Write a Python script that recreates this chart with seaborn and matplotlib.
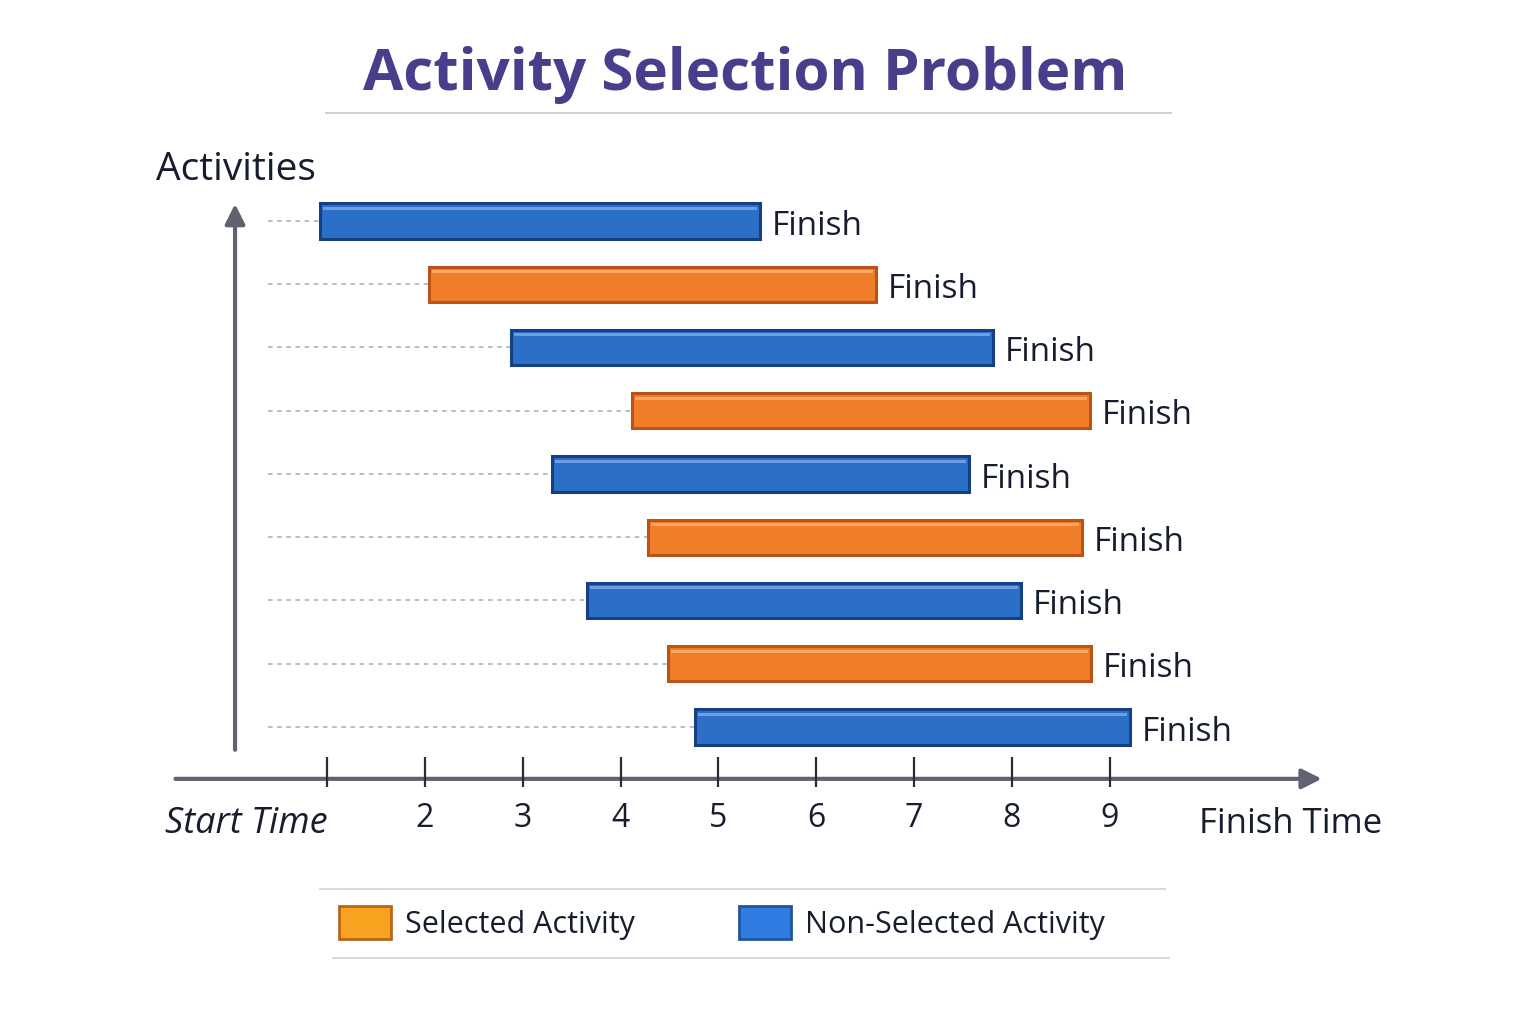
import matplotlib
matplotlib.use("Agg")
import matplotlib.pyplot as plt
from matplotlib.patches import Patch
import seaborn as sns
import pandas as pd

sns.set_theme(style="white")
plt.rcParams["font.family"] = ["Open Sans", "DejaVu Sans"]

# ---------- data ----------
activities = [1, 2, 3, 4, 5, 6, 7, 8, 9]
starts = [0.93, 2.04, 2.88, 4.12, 3.30, 4.28, 3.66, 4.49, 4.76]
finishes = [5.43, 6.61, 7.81, 8.80, 7.56, 8.72, 8.09, 8.81, 9.21]
selected = [False, True, False, True, False, True, False, True, False]
tick_values = [1, 2, 3, 4, 5, 6, 7, 8, 9]
tick_labels = ["", "2", "3", "4", "5", "6", "7", "8", "9"]

df = pd.DataFrame({"activity": activities, "start": starts,
                   "finish": finishes, "selected": selected})
df["row"] = df["activity"] - 1
df["width"] = df["finish"] - df["start"]

FILL = {True: "#F07E28", False: "#2C6FC6"}
EDGE = {True: "#B9531A", False: "#163F86"}
SHINE = {True: "#F9A766", False: "#6D9FE0"}
INK = "#161D2E"
AXC = "#5F6270"

fig = plt.figure(figsize=(15.36, 10.24), dpi=100)
ax = fig.add_axes([0, 0, 1, 1])
ax.set_xlim(-2.344, 13.36)
ax.set_ylim(12.696, -3.494)
ax.axis("off")

# guide lines from left to bar start
ax.hlines(df["row"], 0.40, df["start"], colors="#A8ABB3", lw=1.1,
          linestyles=(0, (3, 3)), zorder=1)

# bars
for sel in [True, False]:
    d = df[df["selected"] == sel]
    ax.barh(d["row"], d["width"], left=d["start"], height=0.56,
            color=FILL[sel], edgecolor=EDGE[sel], linewidth=2.2, zorder=3)
    ax.barh(d["row"] - 0.2, d["width"] - 0.06, left=d["start"] + 0.03,
            height=0.05, color=SHINE[sel], linewidth=0, zorder=4)

for _, r in df.iterrows():
    ax.text(r["finish"] + 0.12, r["row"] + 0.08, "Finish", va="center",
            ha="left", fontsize=24, color=INK, zorder=5)

# axes arrows
ax.annotate("", xy=(11.17, 8.82), xytext=(-0.55, 8.82),
            arrowprops=dict(arrowstyle="-|>", color=AXC, lw=3,
                            mutation_scale=30, shrinkA=0, shrinkB=0))
ax.annotate("", xy=(0.059, -0.27), xytext=(0.059, 8.36),
            arrowprops=dict(arrowstyle="-|>", color=AXC, lw=3,
                            mutation_scale=30, shrinkA=0, shrinkB=0))

ax.vlines(tick_values, 8.47, 8.95, colors="#2A2D38", lw=1.6, zorder=5)
for v, lab in zip(tick_values, tick_labels):
    ax.text(v, 9.45, lab, ha="center", va="center", fontsize=23, color=INK)

ax.text(0.17, 9.53, "Start Time", ha="center", va="center", fontsize=26,
        style="italic", color=INK)
ax.text(10.85, 9.53, "Finish Time", ha="center", va="center", fontsize=25,
        color=INK)
ax.text(0.07, -0.80, "Activities", ha="center", va="center", fontsize=28,
        color=INK)

# title
fig.text(745 / 1536, 1 - 75 / 1024, "Activity Selection Problem",
         ha="center", va="center", fontsize=42, fontweight="bold",
         color="#473E8C")
ax.hlines(-1.707, 0.98, 9.64, colors="#C9CCD6", lw=1.3)

# legend
ax.hlines(10.56, 0.92, 9.58, colors="#D3D5DC", lw=1.3)
ax.hlines(11.65, 1.05, 9.62, colors="#D3D5DC", lw=1.3)
handles = [Patch(facecolor="#F9A21F", edgecolor="#B8661A", lw=2,
                 label="Selected Activity"),
           Patch(facecolor="#2F7BE0", edgecolor="#1F55A0", lw=2,
                 label="Non-Selected Activity")]
fig.legend(handles=handles, loc="center", bbox_to_anchor=(722 / 1536, 1 - 923 / 1024),
           ncol=2, frameon=False, fontsize=22, handlelength=1.7,
           handleheight=1.25, handletextpad=0.45, columnspacing=3.4,
           labelcolor=INK)

fig.savefig("out.png", dpi=100, facecolor="white")
